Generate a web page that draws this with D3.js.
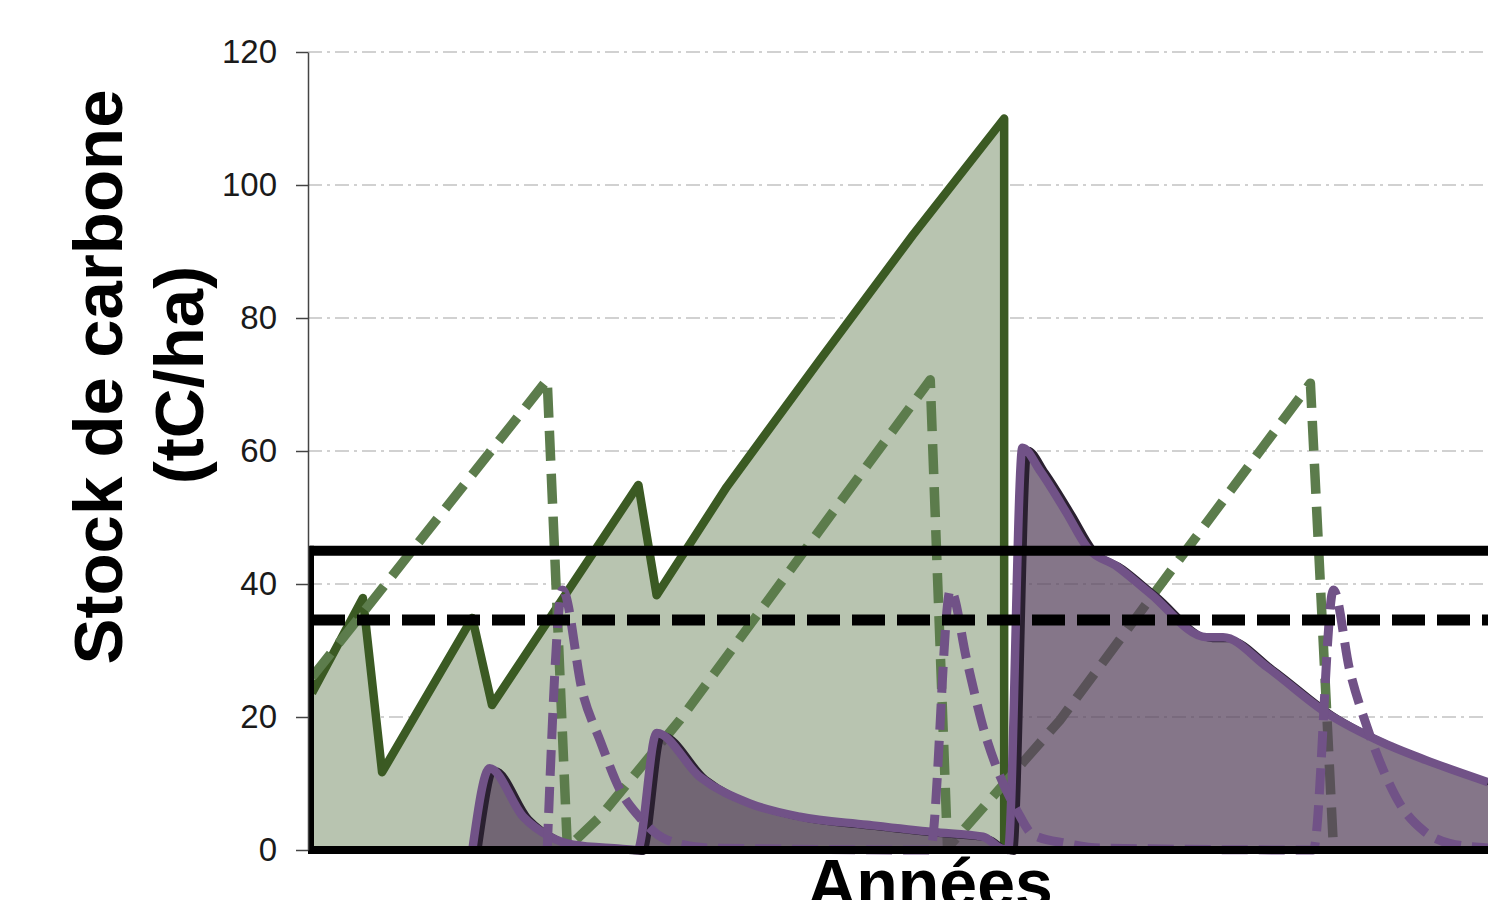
<!DOCTYPE html>
<html>
<head>
<meta charset="utf-8">
<script src="https://cdn.jsdelivr.net/npm/d3@7"></script>
<style>
  html, body { margin: 0; padding: 0; background: #ffffff; }
  svg { display: block; }
</style>
</head>
<body>
<div id="chart"></div>
<script>
// ---------- data (years, tC/ha) ----------
const yTicks = [0, 20, 40, 60, 80, 100, 120];

const greenSolidYears  = [0, 5.3, 7.3, 16.7, 18.75, 34, 35.9, 43.2, 52.9, 62.6, 72.1, 72.1];
const greenSolidValues = [23.6, 37.9, 11.7, 34.9, 21.8, 54.9, 38.3, 54.6, 73.7, 92.5, 110, 0];

const greenDashYears  = [0, 24.5, 26.6, 30, 38.3, 64.4, 66.2, 77.9, 104, 106.4];
const greenDashValues = [26, 70.7, 0.3, 5, 19.5, 70.7, 0.3, 19.5, 70.2, 0.3];

const purpleSolidYears  = [16.7, 18.5, 22, 24.8, 27.2, 32.1, 33.9, 35.9, 40.4, 45.6, 50.8, 57.8, 64.7, 69.9, 71.7, 72.5, 74, 75.8, 78.6, 80.7, 83.9, 87.3, 93.2, 94.9, 99.5, 105.7, 111.6, 116.8, 122.5];
const purpleSolidValues = [0, 12.3, 5, 2, 0.8, 0.2, 0, 17.6, 11, 7, 5, 3.8, 2.7, 2, 0.3, 0, 60.5, 57.1, 50.7, 45.6, 42.6, 38.6, 32, 32, 27.5, 20.6, 16.1, 13.1, 10.2];

const purpleDashYears  = [24.5, 26.1, 28.2, 30, 32.1, 33.9, 37, 41.5, 64.4, 66.5, 68.2, 69.9, 71.7, 73.4, 75.1, 78.6, 82.1, 104.3, 106.4, 108.1, 109.9, 111.6, 113.3, 115.7, 118.5, 122.5];
const purpleDashValues = [0, 39.1, 23.6, 16.5, 9, 5.3, 1.5, 0.3, 0, 39.1, 28.6, 18.5, 11, 6, 2.3, 1, 0.3, 0, 39.1, 27, 18.5, 12, 7, 3, 1, 0.3];

const thresholdSolid = 45;
const thresholdDash = 34.6;

const yLabelLine1 = "Stock de carbone";
const yLabelLine2 = "(tC/ha)";
const xLabel = "Années";

// ---------- setup ----------
const W = 1488, H = 900;
const svg = d3.select("#chart").append("svg").attr("width", W).attr("height", H);
svg.append("rect").attr("width", W).attr("height", H).attr("fill", "#ffffff");

const x = d3.scaleLinear().domain([0, 122.5]).range([312, 1488]);
const y = d3.scaleLinear().domain([0, 120]).range([850, 52]);

const zip = (xs, vs) => xs.map((t, i) => ({ t, v: vs[i] }));
const greenSolid = zip(greenSolidYears, greenSolidValues);
const greenDash = zip(greenDashYears, greenDashValues);
const purpleSolid = zip(purpleSolidYears, purpleSolidValues);
const purpleDash = zip(purpleDashYears, purpleDashValues);

const line = d3.line().x(d => x(d.t)).y(d => y(d.v));
const area = d3.area().x(d => x(d.t)).y0(y(0)).y1(d => y(d.v));
const lineSmooth = d3.line().x(d => x(d.t)).y(d => y(d.v)).curve(d3.curveMonotoneX);
const areaSmooth = d3.area().x(d => x(d.t)).y0(y(0)).y1(d => y(d.v)).curve(d3.curveMonotoneX);

// grid
svg.append("g").selectAll("line")
  .data(yTicks.filter(v => v > 0))
  .join("line")
  .attr("x1", 308).attr("x2", W)
  .attr("y1", d => y(d)).attr("y2", d => y(d))
  .attr("stroke", "#c2c2c2").attr("stroke-width", 1.3)
  .attr("stroke-dasharray", "14,5,3,5");

// green area + line
svg.append("path").datum(greenSolid).attr("d", area).attr("fill", "#b8c4b0");
svg.append("path").datum(greenSolid).attr("d", line)
  .attr("fill", "none").attr("stroke", "#3b5a23").attr("stroke-width", 8.5)
  .attr("stroke-linejoin", "round");

// green dashed
svg.append("path").datum(greenDash).attr("d", line)
  .attr("fill", "none").attr("stroke", "#5c7c4c").attr("stroke-width", 9.5)
  .attr("stroke-dasharray", "30,13").attr("stroke-linejoin", "round");

// purple area
svg.append("path").datum(purpleSolid).attr("d", areaSmooth).attr("fill", "rgba(88,67,93,0.73)");
// dark shadow line
svg.append("path").datum(purpleSolid).attr("d", lineSmooth)
  .attr("transform", "translate(6,2)")
  .attr("fill", "none").attr("stroke", "#2a2030").attr("stroke-width", 6)
  .attr("stroke-linejoin", "round");
svg.append("path").datum(purpleSolid).attr("d", lineSmooth)
  .attr("fill", "none").attr("stroke", "#715287").attr("stroke-width", 8.5)
  .attr("stroke-linejoin", "round");

// purple dashed
svg.append("path").datum(purpleDash).attr("d", lineSmooth)
  .attr("fill", "none").attr("stroke", "#715287").attr("stroke-width", 9)
  .attr("stroke-dasharray", "26,11").attr("stroke-linejoin", "round");

// black frame / thresholds
svg.append("line").attr("x1", 310).attr("x2", W)
  .attr("y1", y(thresholdSolid)).attr("y2", y(thresholdSolid))
  .attr("stroke", "#000").attr("stroke-width", 10);
svg.append("line").attr("x1", 312).attr("x2", W)
  .attr("y1", y(thresholdDash)).attr("y2", y(thresholdDash))
  .attr("stroke", "#000").attr("stroke-width", 11)
  .attr("stroke-dasharray", "33,12");
svg.append("line").attr("x1", 311).attr("x2", 311)
  .attr("y1", y(thresholdSolid) - 5).attr("y2", y(0) + 4)
  .attr("stroke", "#000").attr("stroke-width", 6);
svg.append("line").attr("x1", 308).attr("x2", W)
  .attr("y1", y(0)).attr("y2", y(0))
  .attr("stroke", "#000").attr("stroke-width", 8);

// y axis
const yAxis = svg.append("g").attr("transform", "translate(308,0)")
  .call(d3.axisLeft(y).tickValues(yTicks).tickSize(12).tickSizeOuter(0).tickPadding(19));
yAxis.select(".domain").attr("stroke", "#444").attr("stroke-width", 1.5);
yAxis.selectAll(".tick line").attr("stroke", "#444").attr("stroke-width", 1.5);
yAxis.selectAll(".tick text")
  .attr("font-family", "'Liberation Sans', Arial, sans-serif")
  .attr("font-size", 33).attr("fill", "#1a1a1a");

// labels
svg.append("text").attr("transform", "translate(122,377) rotate(-90)")
  .attr("text-anchor", "middle")
  .attr("font-family", "'Liberation Sans', Arial, sans-serif")
  .attr("font-weight", "bold").attr("font-size", 69).attr("fill", "#000")
  .text(yLabelLine1);
svg.append("text").attr("transform", "translate(203,375) rotate(-90)")
  .attr("text-anchor", "middle")
  .attr("font-family", "'Liberation Sans', Arial, sans-serif")
  .attr("font-weight", "bold").attr("font-size", 69).attr("fill", "#000")
  .text(yLabelLine2);
svg.append("text").attr("x", 930).attr("y", 907)
  .attr("text-anchor", "middle")
  .attr("font-family", "'Liberation Sans', Arial, sans-serif")
  .attr("font-weight", "bold").attr("font-size", 68).attr("fill", "#000")
  .text(xLabel);
</script>
</body>
</html>
